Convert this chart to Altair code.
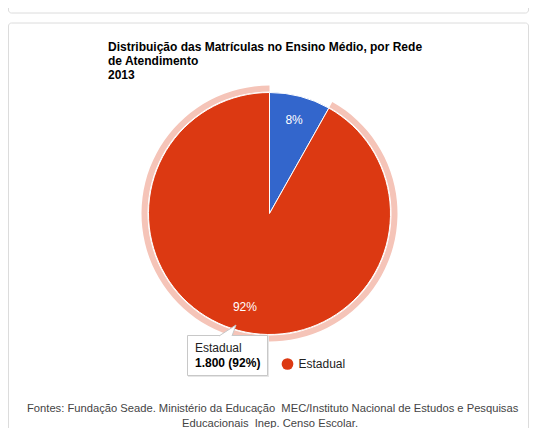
import altair as alt
import pandas as pd

# ---- data ----
categorias = ["Particular", "Estadual"]
valores = [160, 1800]
cores = ["#3366cc", "#dc3912"]
destaque = "Estadual"
titulo = [
    "Distribuição das Matrículas no Ensino Médio, por Rede",
    "de Atendimento",
    "2013",
]
fonte = [
    "Fontes: Fundação Seade. Ministério da Educação\u00a0 MEC/Instituto Nacional de Estudos e Pesquisas",
    "Educacionais\u00a0 Inep. Censo Escolar.",
]

total = sum(valores)
pcts = [f"{round(v / total * 100)}%" for v in valores]


def fmt_br(v):
    return f"{v:,}".replace(",", ".")


df = pd.DataFrame({
    "categoria": categorias,
    "valor": valores,
    "ord": list(range(len(categorias))),
    "pct": pcts,
})
i_dest = categorias.index(destaque)
tip = pd.DataFrame({
    "nome": [destaque],
    "linha": [f"{fmt_br(valores[i_dest])} ({pcts[i_dest]})"],
})

FONT = "Arial, Liberation Sans, sans-serif"
W, H = 521, 420
CX, CY = 261.5, 205.5
R = 121

one = pd.DataFrame({"k": [0]})
base = alt.Chart(df)

# ---- cards ----
card_top = alt.Chart(one).mark_rect(
    fill="white", stroke="#dcdcdc", strokeWidth=1, cornerRadius=3
).encode(x=alt.value(0.5), x2=alt.value(520.5), y=alt.value(-20), y2=alt.value(5))
card = alt.Chart(one).mark_rect(
    fill="white", stroke="#dcdcdc", strokeWidth=1, cornerRadius=3
).encode(x=alt.value(0.5), x2=alt.value(520.5), y=alt.value(15), y2=alt.value(450))

# ---- pie ----
theta = alt.Theta("valor:Q", stack=True)
order = alt.Order("ord:Q")

ring = base.mark_arc(radius=R + 7, radius2=R + 1).encode(
    theta=theta, order=order,
    fill=alt.condition(alt.datum.categoria == destaque,
                       alt.value("#f5c4b8"), alt.value("transparent")),
    x=alt.value(CX), y=alt.value(CY),
)

pie = base.mark_arc(radius=R, stroke="white", strokeWidth=1).encode(
    theta=theta, order=order,
    color=alt.Color(
        "categoria:N",
        scale=alt.Scale(domain=categorias, range=cores),
        legend=alt.Legend(
            values=[destaque], orient="none", legendX=273.5, legendY=350,
            title=None, symbolType="circle", symbolSize=137,
            symbolStrokeWidth=0, labelFont=FONT, labelFontSize=12,
            labelColor="#222222", labelOffset=5, padding=0,
        ),
    ),
    x=alt.value(CX), y=alt.value(CY),
)

labels = base.mark_text(
    radius=97, font=FONT, fontSize=12, color="white",
    align="center", baseline="middle",
).encode(
    theta=theta, order=order, text="pct:N",
    x=alt.value(CX), y=alt.value(CY),
)

# ---- title ----
title_layers = [
    alt.Chart(one).mark_text(
        text=t, font=FONT, fontSize=12, fontWeight="bold", color="#000000",
        align="left", baseline="alphabetic",
    ).encode(x=alt.value(100), y=alt.value(yy))
    for t, yy in zip(titulo, [42.5, 56.5, 70.5])
]

# ---- footer ----
foot1 = alt.Chart(one).mark_text(
    text=fonte[0], font=FONT, fontSize=11.2, color="#444444",
    align="left", baseline="alphabetic",
).encode(x=alt.value(19), y=alt.value(403.5))
foot2 = alt.Chart(one).mark_text(
    text=fonte[1], font=FONT, fontSize=11.2, color="#444444",
    align="left", baseline="alphabetic",
).encode(x=alt.value(174), y=alt.value(418.5))

# ---- tooltip ----
tshadow = alt.Chart(one).mark_rect(fill="#e6e6e6").encode(
    x=alt.value(180), x2=alt.value(261), y=alt.value(328), y2=alt.value(369))
tbox = alt.Chart(one).mark_rect(fill="white", stroke="#c8c8c8", strokeWidth=1).encode(
    x=alt.value(179.5), x2=alt.value(259.5), y=alt.value(327.5), y2=alt.value(367.5))
tpointer = alt.Chart(one).mark_point(
    shape="M -0.85 0.6 L 0.85 -0.5 L 0.45 0.6", size=400,
    filled=True, fill="white", stroke="#c8c8c8", strokeWidth=1, opacity=1,
).encode(x=alt.value(219.5), y=alt.value(322))
ttext1 = alt.Chart(tip).mark_text(
    font=FONT, fontSize=12, color="#222222", align="left", baseline="alphabetic",
).encode(text="nome:N", x=alt.value(187), y=alt.value(344))
ttext2 = alt.Chart(tip).mark_text(
    font=FONT, fontSize=12, fontWeight="bold", color="#000000",
    align="left", baseline="alphabetic",
).encode(text="linha:N", x=alt.value(187), y=alt.value(359))

chart = alt.layer(
    card_top, card, ring, pie, labels, *title_layers, foot1, foot2,
    tshadow, tbox, tpointer, ttext1, ttext2,
).properties(
    width=W, height=H, padding=0, autosize="none", background="white",
).configure_view(stroke=None)

chart.save("out.html", embed_options={"renderer": "svg", "actions": False})
